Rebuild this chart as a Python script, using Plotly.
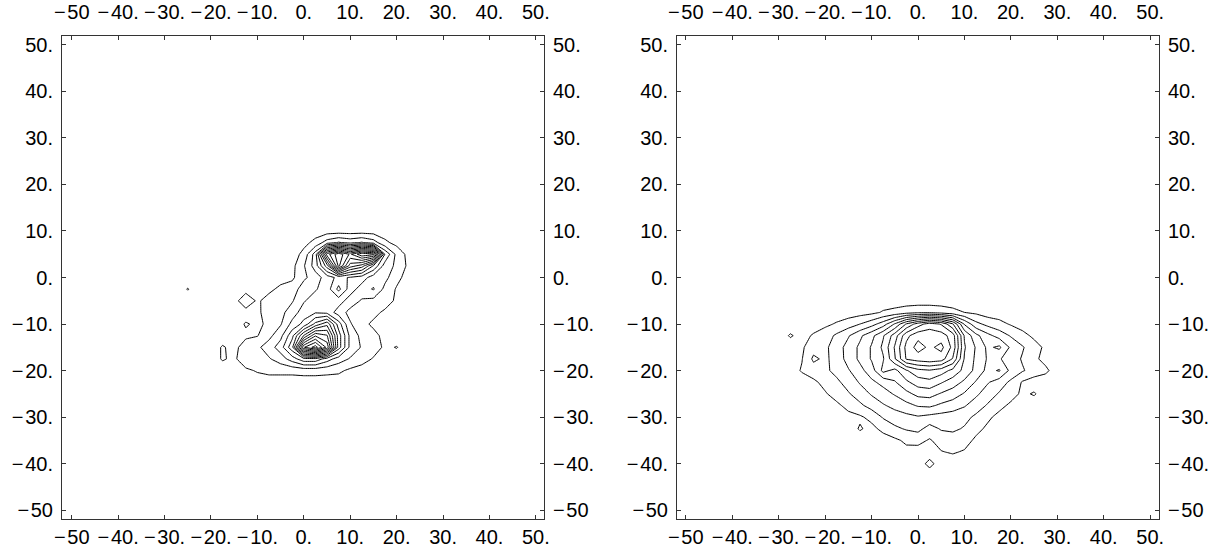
import plotly.graph_objects as go

# ---------------- data ----------------
# Left panel grid (contour heights)
left_x = [-27.5, -25, -22.5, -20, -17.5, -15, -12.5, -10, -7.5, -5, -2.5, 0,
          2.5, 5, 7.5, 10, 12.5, 15, 17.5, 20, 22.5, 25, 27.5]
left_y = [12.5, 10, 7.5, 5, 2.5, 0, -2.5, -5, -7.5, -10, -12.5, -15, -17.5,
          -20, -22.5, -25]
left_z = [
    [0] * 23,
    [0] * 23,
    [0, 0, 0, 0, 0, 0, 0, 0, 0, 0, 0, 0.2, 0.8, 2, 2.6, 2.2, 2.6, 2, 0.7, 0.2, 0, 0, 0],
    [0, 0, 0, 0, 0, 0, 0, 0, 0, 0, 0, 0.8, 3, 10, 12.2, 10.3, 12.3, 11.8, 3.4, 1.2, 0.2, 0, 0],
    [0, 0, 0, 0, 0, 0, 0, 0, 0, 0, 0.2, 1.4, 3, 6, 11.8, 8, 7, 4.4, 2, 1.3, 0.3, 0, 0],
    [0, 0, 0, 0, 0, 0, 0, 0, 0, 0, 0.3, 1.3, 2, 3, 3.8, 3.4, 3, 2, 1.8, 0.8, 0.1, 0, 0],
    [0, 0.55, 0, 0, 0, 0, 0, 0, 0.2, 0.8, 1, 2, 2.4, 3, 4.8, 3, 2, 2.6, 1.2, 0.4, 0, 0, 0],
    [0, 0, 0, 0, 0, 0, 1.4, 0.3, 1, 1.2, 1.4, 2.4, 3, 3.4, 3, 2, 1.4, 1.2, 1, 0.3, 0, 0, 0],
    [0, 0, 0, 0, 0, 0, 0, 0.2, 1.2, 1.2, 2, 3, 3.4, 3.2, 2, 1.2, 1, 0.8, 0.3, 0, 0, 0, 0],
    [0, 0, 0, 0, 0, 0, 0.6, 0.3, 0.7, 1.4, 2.8, 3.8, 5.8, 7.2, 4, 1.6, 0.8, 0.3, 0, 0, 0, 0, 0],
    [0, 0, 0, 0, 0, 0, 0.3, 0.45, 1.2, 2.2, 4.2, 7.6, 10.4, 9.6, 5, 2.2, 1.2, 0.8, 0.2, 0, 0, 0, 0],
    [0, 0, 0, 0, 0.6, 0.2, 1, 1.3, 2, 3, 5.2, 12.4, 14, 11.2, 5, 2.2, 1.4, 1, 0.3, 0.55, 0, 0, 0],
    [0, 0, 0, 0, 0.6, 0.3, 1.2, 1, 1.4, 2, 3, 4.2, 4.2, 3, 2, 1.4, 1, 0.4, 0, 0, 0, 0, 0],
    [0, 0, 0, 0, 0, 0, 0.3, 0.6, 0.8, 0.8, 0.8, 0.9, 0.9, 0.8, 0.7, 0.3, 0, 0, 0, 0, 0, 0, 0],
    [0] * 23,
    [0] * 23,
]

# Right panel grid
right_x = [-30, -27.5, -25, -22.5, -20, -17.5, -15, -12.5, -10, -7.5, -5, -2.5, 0,
           2.5, 5, 7.5, 10, 12.5, 15, 17.5, 20, 22.5, 25, 27.5, 30]
right_y = [-5, -7.5, -10, -12.5, -15, -17.5, -20, -22.5, -25, -27.5, -30, -32.5,
           -35, -37.5, -40, -42.5]
right_z = [
    [0] * 25,
    [0, 0, 0, 0, 0, 0, 0, 0.1, 0.25, 0.6, 0.8, 1.1, 1.3, 1.3, 1.1, 0.8, 0.5, 0.3, 0, 0, 0, 0, 0, 0, 0],
    [0, 0, 0, 0.1, 0.3, 0.6, 1, 1.5, 2.1, 3, 4.6, 6.6, 8, 9, 8.4, 6.6, 3.4, 1.8, 1.2, 0.8, 0.4, 0.1, 0, 0, 0],
    [0, 0.6, 0.2, 0.6, 1, 1.7, 2.4, 3.3, 4.2, 5.4, 7, 9.2, 10.2, 10.1, 10, 9, 5.4, 3.8, 2.8, 2.1, 1.4, 0.8, 0.3, 0, 0],
    [0, 0, 0.35, 1.1, 1.3, 2, 2.9, 3.7, 4.6, 5.7, 7.6, 9.8, 10.9, 10.3, 10.8, 9.2, 5.6, 4.4, 3.3, 3.7, 2.3, 1.6, 0.9, 0.3, 0],
    [0, 0, 0.45, 1.7, 1.3, 1.9, 2.9, 3.7, 4.6, 5.4, 7.4, 9.6, 10, 10.2, 10, 8.4, 5.4, 4.3, 3.4, 2.6, 2, 1.4, 0.7, 0.2, 0],
    [0, 0, 0.6, 1, 1.3, 1.8, 2.4, 3.2, 4, 5.8, 5.2, 6.4, 7.2, 7.4, 7, 6.2, 5.2, 4.2, 3.2, 3.6, 2.2, 1.6, 1.1, 0.7, 0],
    [0, 0, 0, 0.3, 0.8, 1.3, 1.9, 2.6, 3.3, 3.8, 4.4, 5.3, 6, 6.2, 5.6, 5, 4.3, 3.4, 2.6, 2, 1.3, 0.4, 0, 0, 0],
    [0, 0, 0, 0, 0.4, 0.9, 1.4, 2, 2.6, 3.1, 3.6, 4.2, 4.8, 4.9, 4.4, 4, 3.4, 2.7, 2, 1.4, 0.9, 0.3, 0.6, 0, 0],
    [0, 0, 0, 0, 0, 0.3, 0.8, 1.3, 1.9, 2.4, 2.8, 3.2, 3.6, 3.7, 3.3, 3, 2.6, 2, 1.4, 0.8, 0.3, 0, 0, 0, 0],
    [0, 0, 0, 0, 0, 0, 0.2, 0.35, 0.8, 1.6, 2, 2.2, 2.4, 2.2, 2.1, 2, 1.8, 1.3, 0.7, 0.2, 0, 0, 0, 0, 0],
    [0, 0, 0, 0, 0, 0, 0, 0.6, 0.2, 0.8, 1.3, 1.6, 1.8, 1.1, 1.6, 1.7, 1.4, 0.8, 0.3, 0, 0, 0, 0, 0, 0],
    [0, 0, 0, 0, 0, 0, 0, 0, 0, 0, 0.3, 0.7, 0.8, 0.4, 0.9, 1, 0.9, 0.3, 0, 0, 0, 0, 0, 0, 0],
    [0, 0, 0, 0, 0, 0, 0, 0, 0, 0, 0, 0.2, 0.1, 0, 0.45, 0.6, 0.4, 0, 0, 0, 0, 0, 0, 0, 0],
    [0, 0, 0, 0, 0, 0, 0, 0, 0, 0, 0, 0, 0, 0.8, 0, 0, 0, 0, 0, 0, 0, 0, 0, 0, 0],
    [0] * 25,
]

tick_vals = [-50, -40, -30, -20, -10, 0, 10, 20, 30, 40, 50]
tick_text = ["\u2212\u200a50", "\u2212\u200a40.", "\u2212\u200a30.", "\u2212\u200a20.",
             "\u2212\u200a10.", "0.", "10.", "20.", "30.", "40.", "50."]

# ---------------- figure ----------------
FONT = dict(family="Liberation Sans, Arial, sans-serif", size=20, color="black")
FRAME = "#333333"

fig = go.Figure()

contour_style = dict(
    contours=dict(start=0.5, end=14.5, size=1, coloring="none"),
    line=dict(color="black", width=1, smoothing=0),
    showscale=False, hoverinfo="skip",
)
fig.add_trace(go.Contour(x=left_x, y=left_y, z=left_z, xaxis="x", yaxis="y", **contour_style))
fig.add_trace(go.Contour(x=right_x, y=right_y, z=right_z, xaxis="x2", yaxis="y2", **contour_style))
# placeholders so the top / right label axes are drawn
fig.add_trace(go.Scatter(x=[None], y=[None], xaxis="x3", yaxis="y3", showlegend=False, hoverinfo="skip"))
fig.add_trace(go.Scatter(x=[None], y=[None], xaxis="x4", yaxis="y4", showlegend=False, hoverinfo="skip"))

W, H = 1226, 552
ydom = [(H - 519) / H, (H - 36) / H]
xdom_l = [62 / W, 544 / W]
xdom_r = [677 / W, 1159 / W]
xr_l = [-52.1, 51.75]
xr_r = [-51.9, 51.9]
yr = [-51.9, 51.9]

common = dict(tickmode="array", tickvals=tick_vals, ticktext=tick_text,
              ticks="inside", ticklen=4, tickwidth=1, tickcolor=FRAME,
              showline=True, linecolor=FRAME, linewidth=1, automargin=False,
              showgrid=False, zeroline=False, tickfont=FONT, fixedrange=True)

fig.update_layout(
    template="none",
    width=W, height=H,
    margin=dict(l=0, r=0, t=0, b=0, pad=0),
    paper_bgcolor="white", plot_bgcolor="white",
    showlegend=False,
    xaxis=dict(domain=xdom_l, range=xr_l, anchor="y", side="bottom", ticklabelstandoff=0, **common),
    yaxis=dict(domain=ydom, range=yr, anchor="x", side="left", ticklabelstandoff=4, **common),
    xaxis2=dict(domain=xdom_r, range=xr_r, anchor="y2", side="bottom", ticklabelstandoff=0, **common),
    yaxis2=dict(domain=ydom, range=yr, anchor="x2", side="left", ticklabelstandoff=4, **common),
    xaxis3=dict(domain=xdom_l, range=xr_l, anchor="y3", side="top", overlaying="x", ticklabelstandoff=8, **common),
    yaxis3=dict(domain=ydom, range=yr, anchor="x3", side="right", overlaying="y", ticklabelstandoff=4, **common),
    xaxis4=dict(domain=xdom_r, range=xr_r, anchor="y4", side="top", overlaying="x2", ticklabelstandoff=8, **common),
    yaxis4=dict(domain=ydom, range=yr, anchor="x4", side="right", overlaying="y2", ticklabelstandoff=4, **common),
)

fig.write_html(
    "out.html",
    config={"displayModeBar": False, "staticPlot": True},
    post_script="document.body.style.margin='0';document.body.style.overflow='hidden';",
)
